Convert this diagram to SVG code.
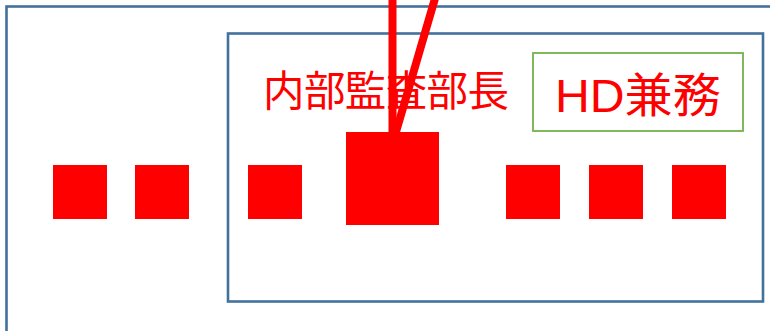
<svg xmlns="http://www.w3.org/2000/svg" width="770" height="331" viewBox="0 0 770 331">
<style>
.frame{fill:none;stroke:#41719C;stroke-width:2.6}
.sq{fill:#FF0000}
.lbl{font-family:"Liberation Sans","Noto Sans CJK JP",sans-serif;fill:#FF0000}
.conn{stroke:#FF0000;stroke-width:8;fill:none}
</style>
<rect width="770" height="331" fill="#FFFFFF"/>
<g id="outer"><rect class="frame" x="6.5" y="6.5" width="780" height="340"/></g>
<g id="inner"><rect class="frame" x="228" y="33.5" width="535" height="268"/></g>
<g id="label-main"><text class="lbl" x="263" y="106" font-size="41.5" textLength="246" lengthAdjust="spacing">内部監査部長</text></g>
<g id="hd-box"><rect x="533" y="53" width="210" height="78" fill="#FFFFFF" stroke="#73B14C" stroke-width="1.8"/><text class="lbl" x="555" y="112" font-size="47" textLength="166" lengthAdjust="spacingAndGlyphs">HD兼務</text></g>
<g id="sq1"><rect class="sq" x="53" y="165" width="54" height="54"/></g>
<g id="sq2"><rect class="sq" x="135" y="165" width="54" height="54"/></g>
<g id="sq3"><rect class="sq" x="248" y="165" width="54" height="54"/></g>
<g id="sq-big"><rect class="sq" x="346" y="132" width="93" height="93"/></g>
<g id="sq4"><rect class="sq" x="506" y="165" width="54" height="54"/></g>
<g id="sq5"><rect class="sq" x="589" y="165" width="54" height="54"/></g>
<g id="sq6"><rect class="sq" x="672" y="165" width="54" height="54"/></g>
<g id="connectors">
<line class="conn" x1="392.5" y1="-5" x2="392.5" y2="132"/>
<line class="conn" x1="436" y1="-5" x2="396" y2="132"/>
</g>
</svg>
